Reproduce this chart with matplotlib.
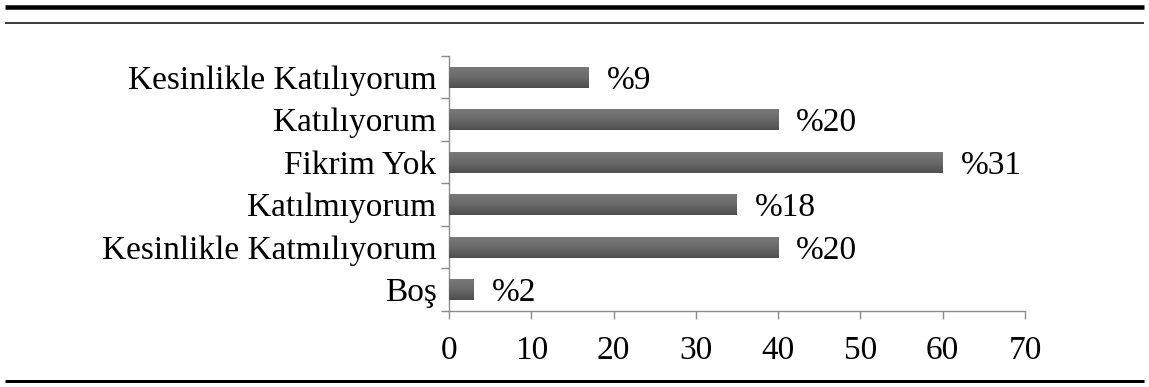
import numpy as np
import matplotlib
matplotlib.use("Agg")
import matplotlib.pyplot as plt
from matplotlib.lines import Line2D
from matplotlib.colors import LinearSegmentedColormap

# Survey responses (counts) and their percentage labels
categories = ["Kesinlikle Katılıyorum", "Katılıyorum", "Fikrim Yok",
              "Katılmıyorum", "Kesinlikle Katmılıyorum", "Boş"]
counts = [17, 40, 60, 35, 40, 3]
percent_labels = ["%9", "%20", "%31", "%18", "%20", "%2"]
x_ticks = [0, 10, 20, 30, 40, 50, 60, 70]

plt.rcParams["font.family"] = ["Liberation Serif", "DejaVu Serif"]
FS = 24

fig = plt.figure(figsize=(11.49, 3.87), dpi=100)
ax = fig.add_axes([0.3908, 0.1964, 0.5013, 0.6589])

y = np.arange(len(categories))[::-1]
bars = ax.barh(y, counts, height=0.5, color="#606060", zorder=2)

# vertical gradient fill inside each bar
grad_cmap = LinearSegmentedColormap.from_list(
    "bar_grad", ["#7a7a7a", "#6a6a6a", "#4e4e4e"])
grad = np.linspace(0, 1, 64).reshape(-1, 1)
for b in bars:
    x0, y0 = b.get_x(), b.get_y()
    w, h = b.get_width(), b.get_height()
    im = ax.imshow(grad, cmap=grad_cmap, aspect="auto",
                   extent=(x0, x0 + w, y0, y0 + h), origin="upper",
                   zorder=3, interpolation="bilinear")
    im.set_clip_path(b)

for yi, v, lab in zip(y, counts, percent_labels):
    ax.text(v + 2.2, yi - 0.08, lab, va="center", ha="left",
            fontsize=FS, color="black")

ax.set_xlim(0, 70)
ax.set_ylim(-0.5, len(categories) - 0.5)
ax.set_xticks(x_ticks)
ax.set_xticklabels([str(t) for t in x_ticks], fontsize=FS)
ax.set_yticks(y)
ax.set_yticklabels(categories, fontsize=FS)
ax.set_yticks(np.arange(-0.5, len(categories), 1.0), minor=True)

for s in ["top", "right"]:
    ax.spines[s].set_visible(False)
for s in ["left", "bottom"]:
    ax.spines[s].set_color("#8c8c8c")
    ax.spines[s].set_linewidth(1.0)

ax.tick_params(axis="x", direction="out", length=6, color="#8c8c8c",
               pad=12, width=1.0)
ax.tick_params(axis="y", which="major", length=0, pad=9)
ax.tick_params(axis="y", which="minor", direction="out", length=6,
               color="#8c8c8c", width=1.0)

# horizontal rules framing the figure
W, H = 1149, 387
def rule(ypx, lw_px):
    fig.add_artist(Line2D([0.004, 0.996], [1 - ypx / H, 1 - ypx / H],
                          transform=fig.transFigure, color="black",
                          linewidth=lw_px * 72 / 100,
                          solid_capstyle="butt"))

rule(7, 4.5)
rule(23, 1.5)
rule(381, 3)

fig.savefig("out.png", dpi=100)
